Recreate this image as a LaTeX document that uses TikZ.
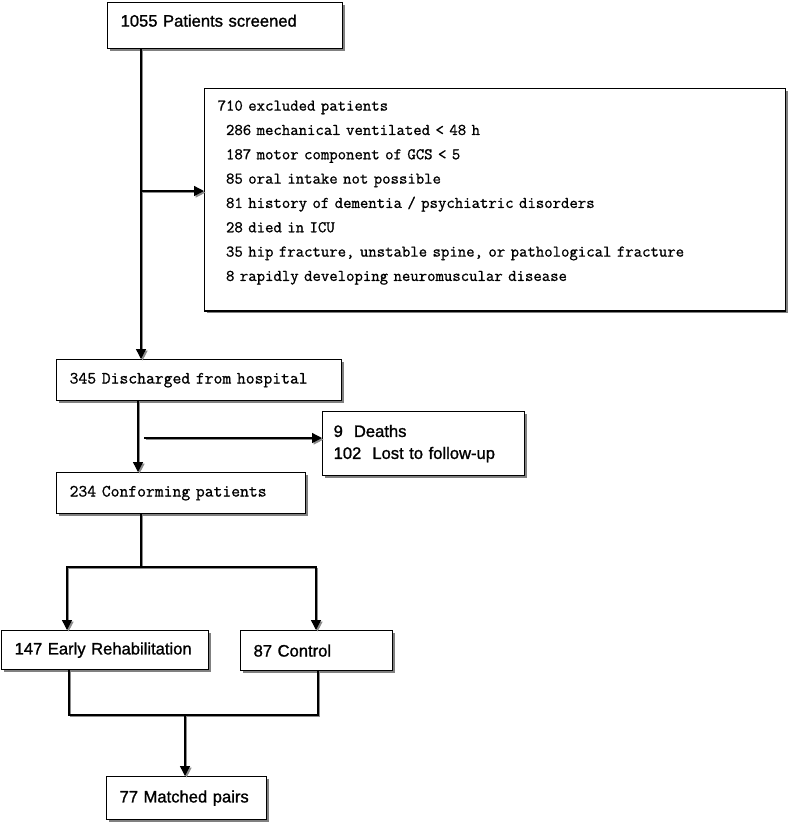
\documentclass[tikz,border=0pt]{standalone}
\usepackage{fontspec}
\usepackage{tikz}
\usetikzlibrary{positioning,arrows.meta,shadows,calc}
\newfontfamily\gothic{Liberation Sans}[FakeBold=1.2]
\newfontfamily\mincho{Latin Modern Mono}[FakeBold=1.0]
\newdimen\pxu
\pxu=0.025cm
\newcommand{\exclpad}{\phantom{0}}

\begin{document}
\begin{tikzpicture}[
    x=0.025cm, y=-0.025cm,
    box/.style={rectangle, draw=black, line width=0.9pt, fill=white, anchor=north west, align=left, inner xsep=13\pxu, inner ysep=0pt, drop shadow={shadow xshift=1.4pt, shadow yshift=-1.4pt, fill=black!50, opacity=1}},
    boxsize/.style 2 args={/utils/exec={\pgfmathsetlengthmacro\boxtw{(#1-26)*0.025cm}}, text width=\boxtw, minimum height=#2\pxu},
    sanstext/.style={font=\gothic\fontsize{11.8}{15.6}\selectfont},
    serftext/.style={font=\mincho\fontsize{12.2}{17}\selectfont},
    listtext/.style={font=\mincho\fontsize{11.6}{17.3}\selectfont},
    link/.style={line width=0.95pt, preaction={draw=black!45, line width=0.95pt, transform canvas={shift={(1.1pt,-1.1pt)}}}},
    flowtip/.style={-{Triangle[length=7pt, width=7pt]}},
]
    \useasboundingbox (0,0) rectangle (791,825);

    % Main flow
    \node[box, boxsize={235}{46}, sanstext, text height=24\pxu, text depth=22\pxu] (screened) at (107,2) {1055 Patients screened};
    \node[box, boxsize={581}{222}, listtext] (excluded) at (204,88) {\rule{0pt}{22\pxu}710 excluded patients\\
        \exclpad 286 mechanical ventilated < 48 h\\
        \exclpad 187 motor component of GCS < 5\\
        \exclpad 85 oral intake not possible\\
        \exclpad 81 history of dementia / psychiatric disorders\\
        \exclpad 28 died in ICU\\
        \exclpad 35 hip fracture, unstable spine, or pathological fracture\\
        \exclpad 8 rapidly developing neuromuscular disease\rule[-30\pxu]{0pt}{30\pxu}};
    \node[box, boxsize={285}{41}, serftext] (discharged) at (56,359) {345 Discharged from hospital};
    \node[box, boxsize={206}{64}, sanstext, inner xsep=11\pxu] (lost) at (322,411) {9~ Deaths\\102~ Lost to follow-up};
    \node[box, boxsize={249}{41}, serftext] (conforming) at (56,472) {234 Conforming patients};
    \node[box, boxsize={207}{39}, sanstext] (early) at (1,630) {147 Early Rehabilitation};
    \node[box, boxsize={152}{40}, sanstext] (control) at (240,630) {87 Control};
    \node[box, boxsize={160}{43}, sanstext] (matched) at (106,776) {77 Matched pairs};

    % Helper points
    \coordinate (spine) at (141,0);
    \coordinate (exclrow) at (0,191);
    \coordinate (stem) at (138,0);
    \coordinate (lossstart) at (144,438);
    \coordinate (fork) at (141,567);
    \coordinate (leftdrop) at (67,0);
    \coordinate (rightdrop) at (316,0);
    \coordinate (leftrise) at (69,0);
    \coordinate (rightrise) at (318,0);
    \coordinate (merge) at (185,715);

    % Arrows
    \draw[link, flowtip] (spine |- screened.south) -- (spine |- discharged.north);
    \draw[link, flowtip] (spine |- exclrow) -- (excluded.west |- exclrow);
    \draw[link, flowtip] (stem |- discharged.south) -- (stem |- conforming.north);
    \draw[link, flowtip] (lossstart) -- (lost.west |- lossstart);
    \draw[link] (fork |- conforming.south) -- (fork);
    \draw[link, flowtip] (fork) -| (early.north -| leftdrop);
    \draw[link, flowtip] (fork) -| (control.north -| rightdrop);
    \draw[link] (early.south -| leftrise) |- (merge -| rightrise) -- (control.south -| rightrise);
    \draw[link, flowtip] (merge) -- (merge |- matched.north);
\end{tikzpicture}
\end{document}
